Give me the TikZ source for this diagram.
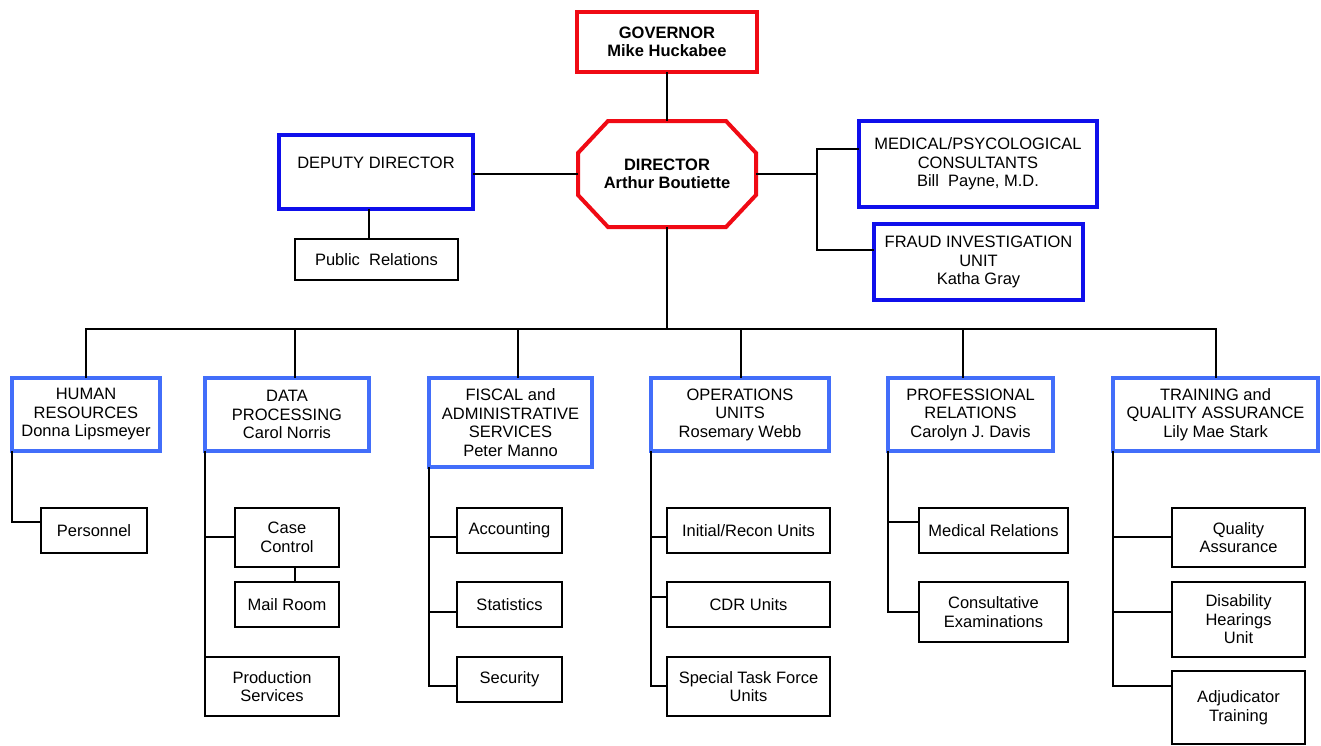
\documentclass[tikz,border=0pt]{standalone}
\usepackage{fontspec}
\setmainfont{Liberation Sans}
\usepackage{tikz}
\usetikzlibrary{positioning}
\usetikzlibrary{calc}
\definecolor{govred}{RGB}{240,10,20}
\definecolor{staffblue}{RGB}{15,15,235}
\definecolor{deptblue}{RGB}{66,110,250}
\newcommand\orgfont{\fontsize{16.5}{18.5}\selectfont}
\tikzstyle{bossbox}=[draw=govred,line width=4pt,align=center,font=\orgfont\bfseries,inner sep=0pt,outer sep=0pt]
\tikzstyle{staffbox}=[draw=staffblue,line width=4pt,align=center,font=\orgfont,inner sep=0pt,outer sep=0pt]
\tikzstyle{deptbox}=[draw=deptblue,line width=4pt,align=center,font=\orgfont,inner sep=0pt,outer sep=0pt]
\tikzstyle{unitbox}=[draw=black,line width=1.6pt,align=center,font=\orgfont,inner sep=0pt,outer sep=0pt]
\tikzstyle{orgedge} = [draw,line width=1.6pt]

\begin{document}
\begin{tikzpicture}[x=1pt,y=-1pt]
    \useasboundingbox (0,0) rectangle (1321,745);

    % top of the chart
    \node[bossbox, minimum width=180pt, minimum height=60pt] (gov) at (667,42) {GOVERNOR\\Mike Huckabee};
    \node[bossbox, draw=none, minimum width=178pt, minimum height=106pt] (director) at (667,174) {DIRECTOR\\Arthur Boutiette};
    \draw[govred, line width=4pt, line join=miter]
        ([xshift=30pt]director.north west) -- ([xshift=-30pt]director.north east)
        -- ([yshift=-32pt]director.north east) -- ([yshift=32pt]director.south east)
        -- ([xshift=-30pt]director.south east) -- ([xshift=30pt]director.south west)
        -- ([yshift=32pt]director.south west) -- ([yshift=-32pt]director.north west) -- cycle;

    \node[staffbox, minimum width=194pt, minimum height=74pt] (deputy) at (376,172) {DEPUTY DIRECTOR\\~};
    \node[unitbox, minimum width=163pt, minimum height=41pt] (pubrel) at (376.5,259.5) {Public\ \ Relations};
    \node[staffbox, minimum width=238pt, minimum height=86pt] (medical) at (978,164) {MEDICAL/PSYCOLOGICAL\\CONSULTANTS\\Bill\ \ Payne, M.D.};
    \node[staffbox, minimum width=209pt, minimum height=76pt] (fraud) at (978.5,262) {FRAUD INVESTIGATION\\UNIT\\Katha Gray};

    \path[orgedge] (gov.south) -- (director.north);
    \path[orgedge] (director.west) -- (director.west -| deputy.east);
    \path[orgedge] ([xshift=-7pt]deputy.south) -- ([xshift=-7pt]deputy.south |- pubrel.north);
    \coordinate (split) at (817,174);
    \path[orgedge] (director.east) -- (split);
    \path[orgedge] (split) |- ([yshift=15pt]medical.west);
    \path[orgedge] (split) |- ([yshift=12pt]fraud.west);

    % departments
    \foreach \name/\x/\y/\w/\h/\label in {
        hr/86/414.5/148/73/{HUMAN\\RESOURCES\\Donna Lipsmeyer},
        dp/287/414.5/164/73/{DATA\\PROCESSING\\Carol Norris},
        fisc/510.5/422.5/163/89/{FISCAL and\\ADMINISTRATIVE\\SERVICES\\Peter Manno},
        ops/740/414.5/178/73/{OPERATIONS\\UNITS\\Rosemary Webb},
        prof/970.5/414.5/165/73/{PROFESSIONAL\\RELATIONS\\Carolyn J. Davis},
        train/1215.5/414.5/205/73/{TRAINING and\\QUALITY ASSURANCE\\Lily Mae Stark}}
        \node[deptbox, minimum width=\w pt, minimum height=\h pt] (\name) at (\x,\y) {\label};

    \coordinate (bus) at (667,329);
    \path[orgedge] (director.south) -- (bus);
    \foreach \dept/\dx in {hr/0, dp/8, fisc/7.5, ops/1, prof/-7.5, train/0.5}
        \path[orgedge] (bus) -| ([xshift=\dx pt]\dept.north);

    % units below the departments
    \foreach \name/\x/\y/\w/\h/\label in {
        pers/94/530.5/106/45/{Personnel},
        case/287/537.5/104/59/{Case\\Control},
        mail/287/604.5/104/45/{Mail Room},
        prod/272/686.5/134/59/{Production\\Services},
        acct/509.5/530.5/105/45/{Accounting},
        stat/509.5/604.5/105/45/{Statistics},
        secu/509.5/679.5/105/45/{Security},
        init/748.5/530.5/163/45/{Initial/Recon Units},
        cdr/748.5/604.5/163/45/{CDR Units},
        spec/748.5/686.5/163/59/{Special Task Force\\Units},
        medrel/993.5/530.5/149/45/{Medical Relations},
        consult/993.5/612/149/60/{Consultative\\Examinations},
        qual/1238.5/537.5/133/59/{Quality\\Assurance},
        disab/1238.5/619.5/133/75/{Disability\\Hearings\\Unit},
        adju/1238.5/707.5/133/73/{Adjudicator\\Training}}
        \node[unitbox, minimum width=\w pt, minimum height=\h pt] (\name) at (\x,\y) {\label};

    \foreach \dept/\sub/\dy in {hr/pers/8.5, dp/case/0.5, fisc/acct/-6.5, fisc/stat/-7.5, fisc/secu/-6.5,
        ops/init/-6.5, ops/cdr/7.5, ops/spec/0.5, prof/medrel/8.5, prof/consult/0,
        train/qual/0.5, train/disab/7.5, train/adju/21.5}
        \path[orgedge] (\dept.south west) |- ([yshift=\dy pt]\sub.west);
    \path[orgedge] (dp.south west) -- (prod.north west);
    \path[orgedge] ([xshift=8pt]case.south) -- ([xshift=8pt]mail.north);

\end{tikzpicture}
\end{document}
